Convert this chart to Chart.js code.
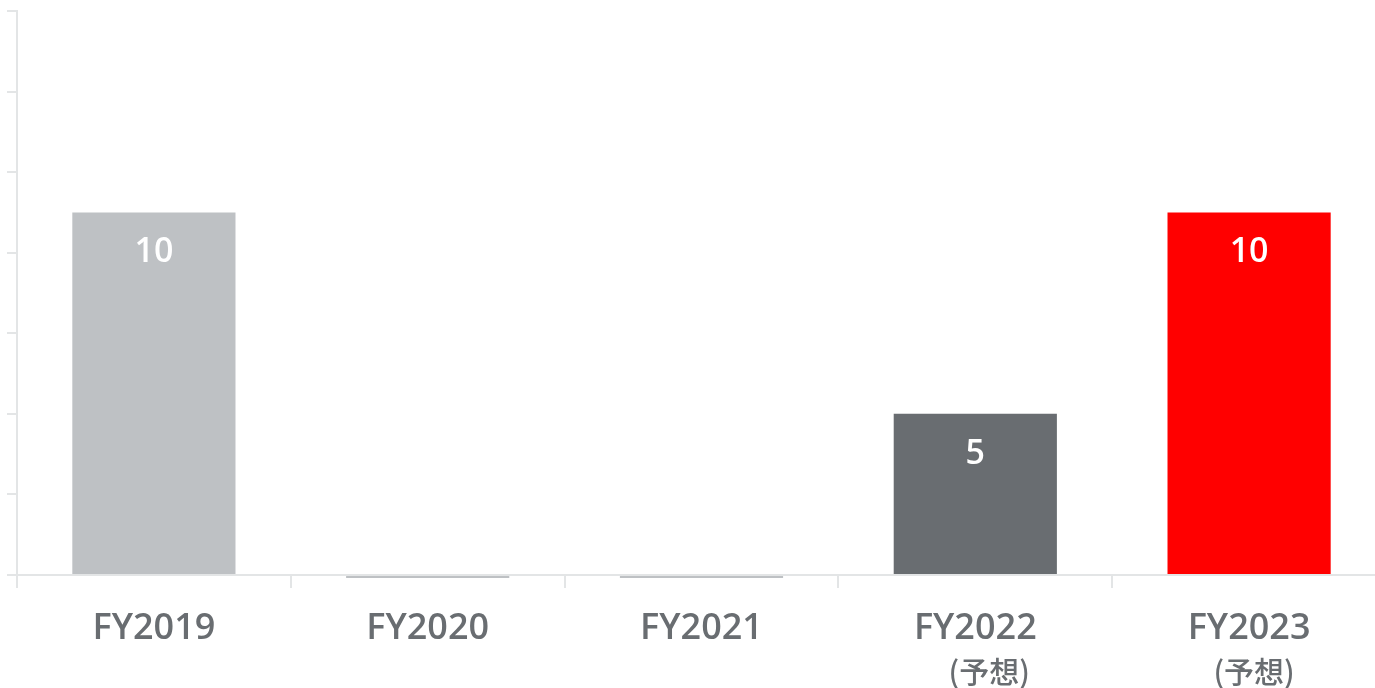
<!DOCTYPE html>
<html lang="ja">
<head>
<meta charset="utf-8">
<title>配当</title>
<script src="https://cdn.jsdelivr.net/npm/chart.js@4/dist/chart.umd.min.js"></script>
<style>
  html, body { margin: 0; padding: 0; background: #fff; overflow: hidden; }
  #wrap { position: relative; width: 1386px; height: 688px; }
</style>
</head>
<body>
<div id="wrap"><canvas id="chart"></canvas></div>
<script>
// Chart data
const categories = ['FY2019', 'FY2020', 'FY2021', 'FY2022', 'FY2023'];
const subLabels = ['', '', '', '(予想)', '(予想)'];
const values = [10, 0, 0, 5, 10];
const barColors = ['#bec1c4', '#bec1c4', '#bec1c4', '#696d71', '#ff0000'];
const yMin = 1;
const yMax = 15;
const yStep = 2;

const AXIS_GRAY = '#e3e5e6';
const TEXT_GRAY = '#696d71';
const LATIN_FONT = '"Open Sans", "DejaVu Sans", sans-serif';
const CJK_FONT = '"Noto Sans CJK JP", sans-serif';
// the second line sits a bit right of the year in the original
const SUB_SHIFT = { 3: 14, 4: 5 };

// value labels inside bars + second line under the year
const labelPlugin = {
    id: 'labels',
    afterDatasetsDraw(chart) {
        const ctx = chart.ctx;
        const meta = chart.getDatasetMeta(0);
        ctx.save();
        ctx.fillStyle = '#ffffff';
        ctx.font = '600 34px ' + LATIN_FONT;
        ctx.textAlign = 'center';
        ctx.textBaseline = 'middle';
        meta.data.forEach((bar, i) => {
            if (values[i] > 0) {
                ctx.fillText(String(values[i]), bar.x, bar.y + 40);
            }
        });
        ctx.restore();
    },
    afterDraw(chart) {
        const ctx = chart.ctx;
        const xScale = chart.scales.x;
        ctx.save();
        ctx.fillStyle = TEXT_GRAY;
        ctx.font = '500 30px ' + CJK_FONT;
        ctx.textAlign = 'center';
        ctx.textBaseline = 'middle';
        subLabels.forEach((txt, i) => {
            if (txt) ctx.fillText(txt, xScale.getPixelForValue(i) + (SUB_SHIFT[i] || 0), 672);
        });
        ctx.restore();
    }
};

new Chart(document.getElementById('chart'), {
    type: 'bar',
    data: {
        labels: categories,
        datasets: [{
            data: values,
            base: yMin,
            backgroundColor: barColors,
            borderWidth: 0,
            categoryPercentage: 1,
            barPercentage: 0.596,
            clip: { left: 0, top: 0, right: 0, bottom: 3 }
        }]
    },
    options: {
        responsive: true,
        maintainAspectRatio: false,
        animation: false,
        layout: { padding: { left: 7, top: 11, right: 0, bottom: 0 } },
        plugins: {
            legend: { display: false },
            tooltip: { enabled: false }
        },
        scales: {
            x: {
                z: 1,
                grid: {
                    offset: true,
                    drawOnChartArea: false,
                    color: AXIS_GRAY,
                    lineWidth: 2,
                    tickLength: 13
                },
                border: { display: true, color: AXIS_GRAY, width: 2 },
                ticks: {
                    color: TEXT_GRAY,
                    font: { family: LATIN_FONT, size: 36, weight: '600' },
                    padding: 19,
                    maxRotation: 0
                },
                afterFit(scale) { scale.height = 113; }
            },
            y: {
                min: yMin,
                max: yMax,
                ticks: { stepSize: yStep, display: false },
                grid: {
                    drawOnChartArea: false,
                    color: AXIS_GRAY,
                    lineWidth: 2,
                    tickLength: 10
                },
                border: { display: true, color: AXIS_GRAY, width: 2 }
            }
        }
    },
    plugins: [labelPlugin]
});
</script>
</body>
</html>
